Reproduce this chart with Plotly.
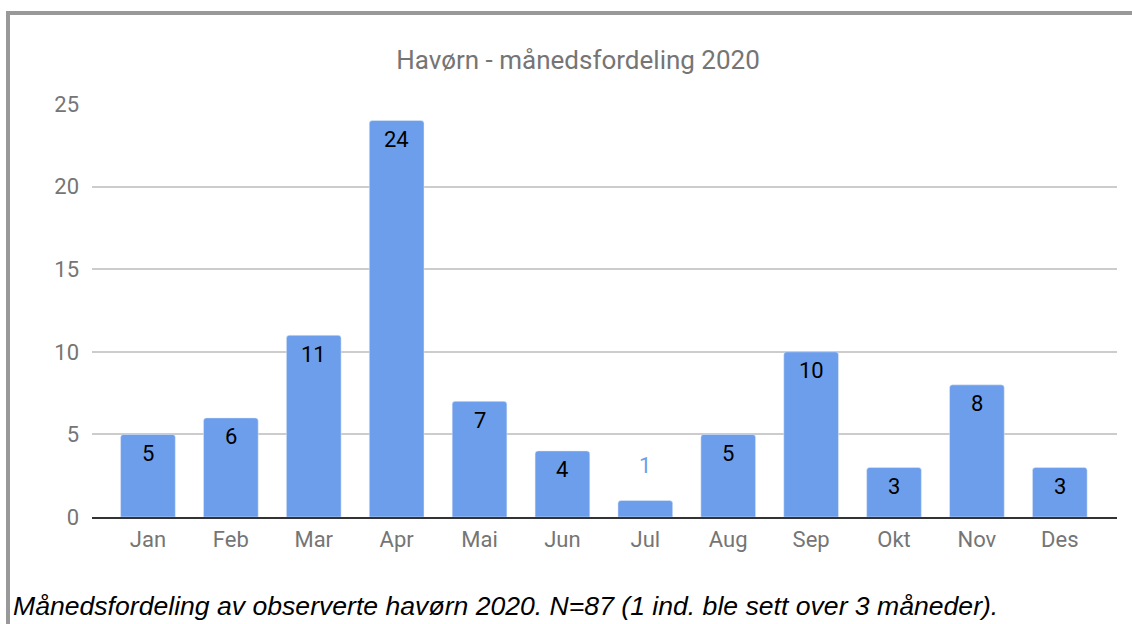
import plotly.graph_objects as go

months = ["Jan", "Feb", "Mar", "Apr", "Mai", "Jun", "Jul", "Aug", "Sep", "Okt", "Nov", "Des"]
counts = [5, 6, 11, 24, 7, 4, 1, 5, 10, 3, 8, 3]
y_ticks = [0, 5, 10, 15, 20, 25]

title = "Havørn - månedsfordeling 2020"
caption = "Månedsfordeling av observerte havørn 2020. N=87 (1 ind. ble sett over 3 måneder)."

BAR = "#6d9eeb"
W, H = 1132, 624
L, R, T, B = 92, 1117, 104, 517  # plot area in pixels


def px_x(x):
    return (x - L) / (R - L)


def px_y(y):
    return (B - y) / (B - T)


fig = go.Figure()
fig.add_trace(
    go.Bar(
        x=months,
        y=counts,
        marker=dict(color=BAR, cornerradius=3),
        hoverinfo="x+y",
    )
)

# value labels: inside near the top, small bars get it above in bar colour
for m, v in zip(months, counts):
    small = v < 2
    fig.add_annotation(
        x=m,
        y=v,
        text=str(v),
        showarrow=False,
        yshift=35 if small else -19,
        font=dict(family="Roboto, Arial", size=22, color=BAR if small else "#000000"),
    )

# grey frame (top and left edges)
fig.add_shape(type="line", xref="paper", yref="paper",
              x0=px_x(6), x1=px_x(W + 5), y0=px_y(13), y1=px_y(13),
              line=dict(color="#999999", width=4))
fig.add_shape(type="line", xref="paper", yref="paper",
              x0=px_x(8), x1=px_x(8), y0=px_y(11), y1=px_y(H + 5),
              line=dict(color="#999999", width=4))

fig.add_annotation(
    xref="paper", yref="paper", x=px_x(11), y=px_y(606),
    xanchor="left", yanchor="middle", showarrow=False,
    text="<i>" + caption + "</i>",
    font=dict(family="Liberation Sans, Arial", size=26.6, color="#000000"),
)

fig.update_layout(
    width=W,
    height=H,
    margin=dict(l=L, r=W - R, t=T, b=H - B, pad=0),
    paper_bgcolor="white",
    plot_bgcolor="white",
    showlegend=False,
    bargap=0.34,
    title=dict(
        text=title,
        x=578 / W,
        xanchor="center",
        y=1 - 60 / H,
        yanchor="middle",
        font=dict(family="Roboto, Arial", size=26, color="#757575"),
    ),
    font=dict(family="Roboto, Arial", color="#757575"),
)
fig.update_xaxes(
    range=[-0.675, 11.69],
    showgrid=False,
    tickfont=dict(size=22, color="#757575"),
    ticks="",
    ticklabelstandoff=2,
    showline=True,
    linecolor="#333333",
    linewidth=1.5,
    fixedrange=True,
)
fig.update_yaxes(
    range=[0, 25],
    tickvals=y_ticks,
    showgrid=True,
    gridcolor="#cccccc",
    gridwidth=1.5,
    zeroline=False,
    tickfont=dict(size=22, color="#757575"),
    ticklabelstandoff=12,
    fixedrange=True,
)

fig.write_html("out.html", post_script="document.body.style.margin='0';", config={"displayModeBar": False})
